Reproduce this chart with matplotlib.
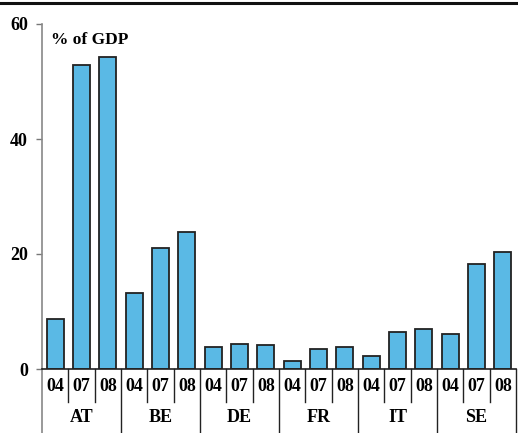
import numpy as np
import matplotlib
matplotlib.use("Agg")
import matplotlib.pyplot as plt
from matplotlib.lines import Line2D
import matplotlib.transforms as mtransforms

countries = ["AT", "BE", "DE", "FR", "IT", "SE"]
years = ["04", "07", "08"]
values = [8.7, 52.9, 54.3,
          13.3, 21.1, 23.9,
          3.8, 4.4, 4.2,
          1.4, 3.5, 3.8,
          2.3, 6.5, 7.0,
          6.1, 18.2, 20.4]

plt.rcParams['font.family'] = ['Liberation Serif', 'DejaVu Serif']
plt.rcParams['font.weight'] = 'bold'

fig = plt.figure(figsize=(5.18, 4.33), dpi=100)
ax = fig.add_axes([42 / 518, 64 / 433, 474 / 518, 345 / 433])

x = np.arange(len(values))
ax.bar(x, values, width=0.64, color="#5ab9e5", edgecolor="#222222", linewidth=1.3, zorder=3)

ax.set_xlim(-0.5, len(values) - 0.5)
ax.set_ylim(0, 60)
ax.set_yticks([0, 20, 40, 60])
ax.set_yticklabels(["0", "20", "40", "60"], fontsize=13, fontweight="bold")
ax.tick_params(axis="y", direction="out", length=4, width=1, color="#777777", pad=6)
ax.set_xticks([])

for s in ["top", "right"]:
    ax.spines[s].set_visible(False)
ax.spines["left"].set_color("#888888")
ax.spines["left"].set_linewidth(1.2)
ax.spines["bottom"].set_color("#222222")
ax.spines["bottom"].set_linewidth(1.2)
ax.spines["bottom"].set_zorder(4)

ax.text(0.018, 0.955, "% of GDP", transform=ax.transAxes, fontsize=12.5,
        fontweight="bold", va="center", ha="left")

# table below the axis
trans = mtransforms.blended_transform_factory(ax.transData, ax.transAxes)
row1 = -33 / 345
row2 = -64 / 345
for i, v in enumerate(values):
    ax.text(i, row1 / 2 - 0.004, years[i % 3], transform=trans, ha="center", va="center",
            fontsize=13, fontweight="bold")
    if i % 3 != 0:
        ax.add_line(Line2D([i - 0.5, i - 0.5], [0, row1], transform=trans,
                           color="#222222", lw=1, clip_on=False))
for j, c in enumerate(countries):
    ax.text(3 * j + 1, (row1 + row2) / 2, c, transform=trans, ha="center",
            va="center", fontsize=13, fontweight="bold")
    ax.add_line(Line2D([3 * j + 2.5, 3 * j + 2.5], [0, row2], transform=trans,
                       color="#222222", lw=1, clip_on=False))
ax.add_line(Line2D([-0.5, -0.5], [0, row2], transform=trans,
                   color="#888888", lw=1.2, clip_on=False))

# rule across the top of the figure
fig.add_artist(Line2D([0, 1], [1 - 3 / 433, 1 - 3 / 433], transform=fig.transFigure,
                      color="#111111", lw=2.2))

fig.savefig("out.png", dpi=100)
